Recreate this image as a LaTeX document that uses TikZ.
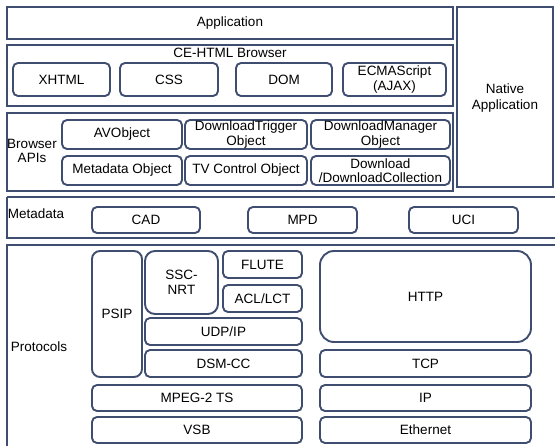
\documentclass[tikz,border=0pt]{standalone}
\usepackage{fontspec}
\setmainfont{Liberation Sans}
\definecolor{frame}{HTML}{3F4E70}
\tikzset{
  x=1pt, y=-1pt,
  every node/.style={font=\fontsize{13.5}{14.5}\selectfont, text=black, align=center},
  layer/.style={draw=frame, line width=2.4pt},
  ibox/.style={draw=frame, line width=1.9pt, rounded corners=5pt, inner sep=0pt},
}
% rounded box from two corners: [style]{name}{x1}{y1}{x2}{y2}{text}
\newcommand\rbox[7][]{%
  \pgfmathsetmacro\bcx{(#3+#5)/2}\pgfmathsetmacro\bcy{(#4+#6)/2}%
  \pgfmathsetmacro\bw{#5-#3}\pgfmathsetmacro\bh{#6-#4}%
  \node[ibox,#1,minimum width=\bw pt,minimum height=\bh pt] (#2) at (\bcx,\bcy) {#7};}
\begin{document}
\begin{tikzpicture}
\useasboundingbox (0,0) rectangle (555,446);
\begin{scope}
\clip (0,0) rectangle (555,446);

% outer layers
\draw[layer] (7,7) rectangle (453,39);
\node (app) at (230,23) {Application};
\draw[layer] (457,7) rectangle (553,187);
\node[font=\fontsize{13.5}{16}\selectfont] (native) at (505,98) {Native\\Application};
\draw[layer] (7,45) rectangle (453,106);
\node (cehtml) at (230,53) {CE-HTML Browser};
\draw[layer] (7,113) rectangle (453,191);
\node (bapi) at (32,151) {Browser\\APIs};
\draw[layer] (7,197) -- (560,197) (7,197) -- (7,238) -- (560,238);
\node (meta) at (36,214) {Metadata};
\draw[layer] (7,450) -- (7,245) -- (560,245);
\node (proto) at (39,347) {Protocols};

% CE-HTML browser components
\rbox{xhtml}{13}{63}{110}{96}{XHTML}
\rbox{css}{120}{63}{218}{96}{CSS}
\rbox{dom}{236}{63}{332}{96}{DOM}
\rbox{ecma}{343}{63}{446}{96}{ECMAScript\\(AJAX)}

% browser APIs
\rbox{avo}{62}{120}{182}{149}{AVObject}
\rbox{dlt}{185}{120}{307}{149}{DownloadTrigger\\Object}
\rbox{dlm}{311}{120}{450}{149}{DownloadManager\\Object}
\rbox{mdo}{62}{156}{182}{185}{Metadata Object}
\rbox{tvc}{185}{156}{307}{185}{TV Control Object}
\rbox{dlc}{311}{156}{450}{185}{Download\\/DownloadCollection}

% metadata
\rbox{cad}{92}{207}{200}{233}{CAD}
\rbox{mpd}{248}{207}{357}{233}{MPD}
\rbox{uci}{409}{207}{518}{233}{UCI}

% broadcast protocol stack
\rbox[rounded corners=8pt]{psip}{92}{251}{142}{377}{PSIP}
\rbox[rounded corners=10pt]{ssc}{145}{251}{218}{314}{SSC-\\NRT}
\rbox{flute}{223}{251}{302}{278}{FLUTE}
\rbox{acl}{223}{285}{302}{312}{ACL/LCT}
\rbox{udp}{145}{318}{302}{345}{UDP/IP}
\rbox{dsm}{145}{350}{302}{377}{DSM-CC}
\rbox{mpeg}{92}{385}{302}{411}{MPEG-2 TS}
\rbox{vsb}{92}{417}{302}{443}{VSB}

% internet protocol stack
\rbox[rounded corners=14pt]{http}{320}{251}{531}{342}{HTTP}
\rbox{tcp}{320}{350}{531}{377}{TCP}
\rbox{ip}{320}{385}{531}{411}{IP}
\rbox{eth}{320}{417}{531}{443}{Ethernet}
\end{scope}
\end{tikzpicture}
\end{document}
